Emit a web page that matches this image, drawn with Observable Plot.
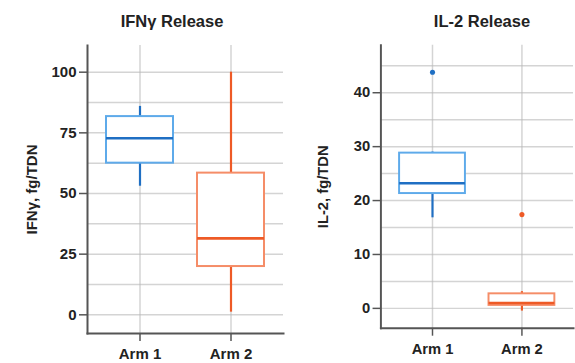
<!DOCTYPE html>
<html>
<head>
<meta charset="utf-8">
<script src="https://cdn.jsdelivr.net/npm/d3@7"></script>
<script src="https://cdn.jsdelivr.net/npm/@observablehq/plot@0.6"></script>
<style>
  html, body { margin: 0; padding: 0; background: #fff; overflow: hidden; }
  #wrap { position: relative; width: 575px; height: 363px; overflow: hidden; font-family: "Liberation Sans", Arial, sans-serif; }
  .title { position: absolute; top: 12px; width: 200px; text-align: center; font-size: 16.5px; font-weight: bold; color: #222; line-height: 18px; white-space: nowrap; }
  .panel { position: absolute; top: 34px; }
</style>
</head>
<body>
<div id="wrap">
  <div class="title" id="t1" style="left:72px">IFNγ Release</div>
  <div class="title" id="t2" style="left:382px">IL-2 Release</div>
  <div class="panel" id="p1" style="left:0px"></div>
  <div class="panel" id="p2" style="left:290px"></div>
</div>
<script>
// Categories
const arms = ["Arm 1", "Arm 2"];

// IFNγ release (fg/TDN) box summaries
const ifnWhiskerLow  = [53.0, 1.1];
const ifnQ1          = [62.5, 19.9];
const ifnMedian      = [72.8, 31.5];
const ifnQ3          = [81.7, 58.4];
const ifnWhiskerHigh = [85.9, 100.0];
const ifnOutlierArm   = [];
const ifnOutlierValue = [];
const ifnTicks = [0, 25, 50, 75, 100];
const ifnGrid  = [0, 12.5, 25, 37.5, 50, 62.5, 75, 87.5, 100];
const ifnDomain = [-7.7, 111];

// IL-2 release (fg/TDN) box summaries
const il2WhiskerLow  = [16.8, -0.5];
const il2Q1          = [21.3, 0.55];
const il2Median      = [23.2, 1.0];
const il2Q3          = [28.8, 2.7];
const il2WhiskerHigh = [29.0, 3.1];
const il2OutlierArm   = ["Arm 1", "Arm 2"];
const il2OutlierValue = [43.8, 17.4];
const il2Ticks = [0, 10, 20, 30, 40];
const il2Grid  = [0, 5, 10, 15, 20, 25, 30, 35, 40, 45];
const il2Domain = [-3.7, 48.8];

// Colours per arm
const boxColor    = {"Arm 1": "#5eaaea", "Arm 2": "#f58d68"};
const strongColor = {"Arm 1": "#1f6fc3", "Arm 2": "#ee5a26"};
const gridColor = "#b8b8b8";

function buildRows(lo, q1, med, q3, hi) {
  return arms.map((a, i) => ({arm: a, lo: lo[i], q1: q1[i], med: med[i], q3: q3[i], hi: hi[i]}));
}

function boxPlot({rows, outliers, ticks, grid, domain, label, marginLeft, marginRight, labelOffset}) {
  const armRows = arms.map(a => ({arm: a, lo: domain[0], hi: domain[1]}));
  return Plot.plot({
    width: 290,
    height: 329,
    marginTop: 11,
    marginBottom: 30,
    marginLeft,
    marginRight,
    style: {fontFamily: '"Liberation Sans", Arial, sans-serif', fontSize: "15px", fontWeight: "bold", color: "#222"},
    x: {type: "band", domain: arms, paddingInner: 0.244, paddingOuter: 0.19, align: 0.5},
    y: {domain, nice: false},
    marks: [
      Plot.gridY(grid, {stroke: gridColor, strokeOpacity: 0.6, strokeWidth: 1.5}),
      Plot.ruleX(armRows, {x: "arm", y1: "lo", y2: "hi", stroke: gridColor, strokeOpacity: 0.6, strokeWidth: 1.5}),
      Plot.ruleX(rows, {x: "arm", y1: "lo", y2: "q1", stroke: d => strongColor[d.arm], strokeWidth: 2.2}),
      Plot.ruleX(rows, {x: "arm", y1: "q3", y2: "hi", stroke: d => strongColor[d.arm], strokeWidth: 2.2}),
      Plot.barY(rows, {x: "arm", y1: "q1", y2: "q3", fill: "white", stroke: d => boxColor[d.arm], strokeWidth: 2, insetLeft: 1, insetRight: 1}),
      Plot.tickY(rows, {x: "arm", y: "med", stroke: d => strongColor[d.arm], strokeWidth: 2.6, insetLeft: 1, insetRight: 1}),
      Plot.dot(outliers, {x: "arm", y: "v", r: 2.6, fill: d => strongColor[d.arm], stroke: "none"}),
      Plot.axisY(ticks, {tickSize: 8, tickPadding: 3, stroke: "#555", strokeWidth: 1.5, label, labelAnchor: "center", labelArrow: "none", labelOffset, fontSize: 15}),
      Plot.axisX(arms, {tickSize: 8, tickPadding: 7, stroke: "#555", strokeWidth: 1.5, label: null, fontSize: 15}),
      Plot.frame({anchor: "left", stroke: "#555", strokeWidth: 2}),
      Plot.frame({anchor: "bottom", stroke: "#555", strokeWidth: 2})
    ]
  });
}

const ifnRows = buildRows(ifnWhiskerLow, ifnQ1, ifnMedian, ifnQ3, ifnWhiskerHigh);
const il2Rows = buildRows(il2WhiskerLow, il2Q1, il2Median, il2Q3, il2WhiskerHigh);
const ifnOut = ifnOutlierArm.map((a, i) => ({arm: a, v: ifnOutlierValue[i]}));
const il2Out = il2OutlierArm.map((a, i) => ({arm: a, v: il2OutlierValue[i]}));

document.getElementById("p1").append(boxPlot({
  rows: ifnRows, outliers: ifnOut, ticks: ifnTicks, grid: ifnGrid, domain: ifnDomain,
  label: "IFNγ, fg/TDN", marginLeft: 87, marginRight: 7, labelOffset: 61
}));
document.getElementById("p2").append(boxPlot({
  rows: il2Rows, outliers: il2Out, ticks: il2Ticks, grid: il2Grid, domain: il2Domain,
  label: "IL-2, fg/TDN", marginLeft: 92, marginRight: 2, labelOffset: 64
}));
</script>
</body>
</html>
